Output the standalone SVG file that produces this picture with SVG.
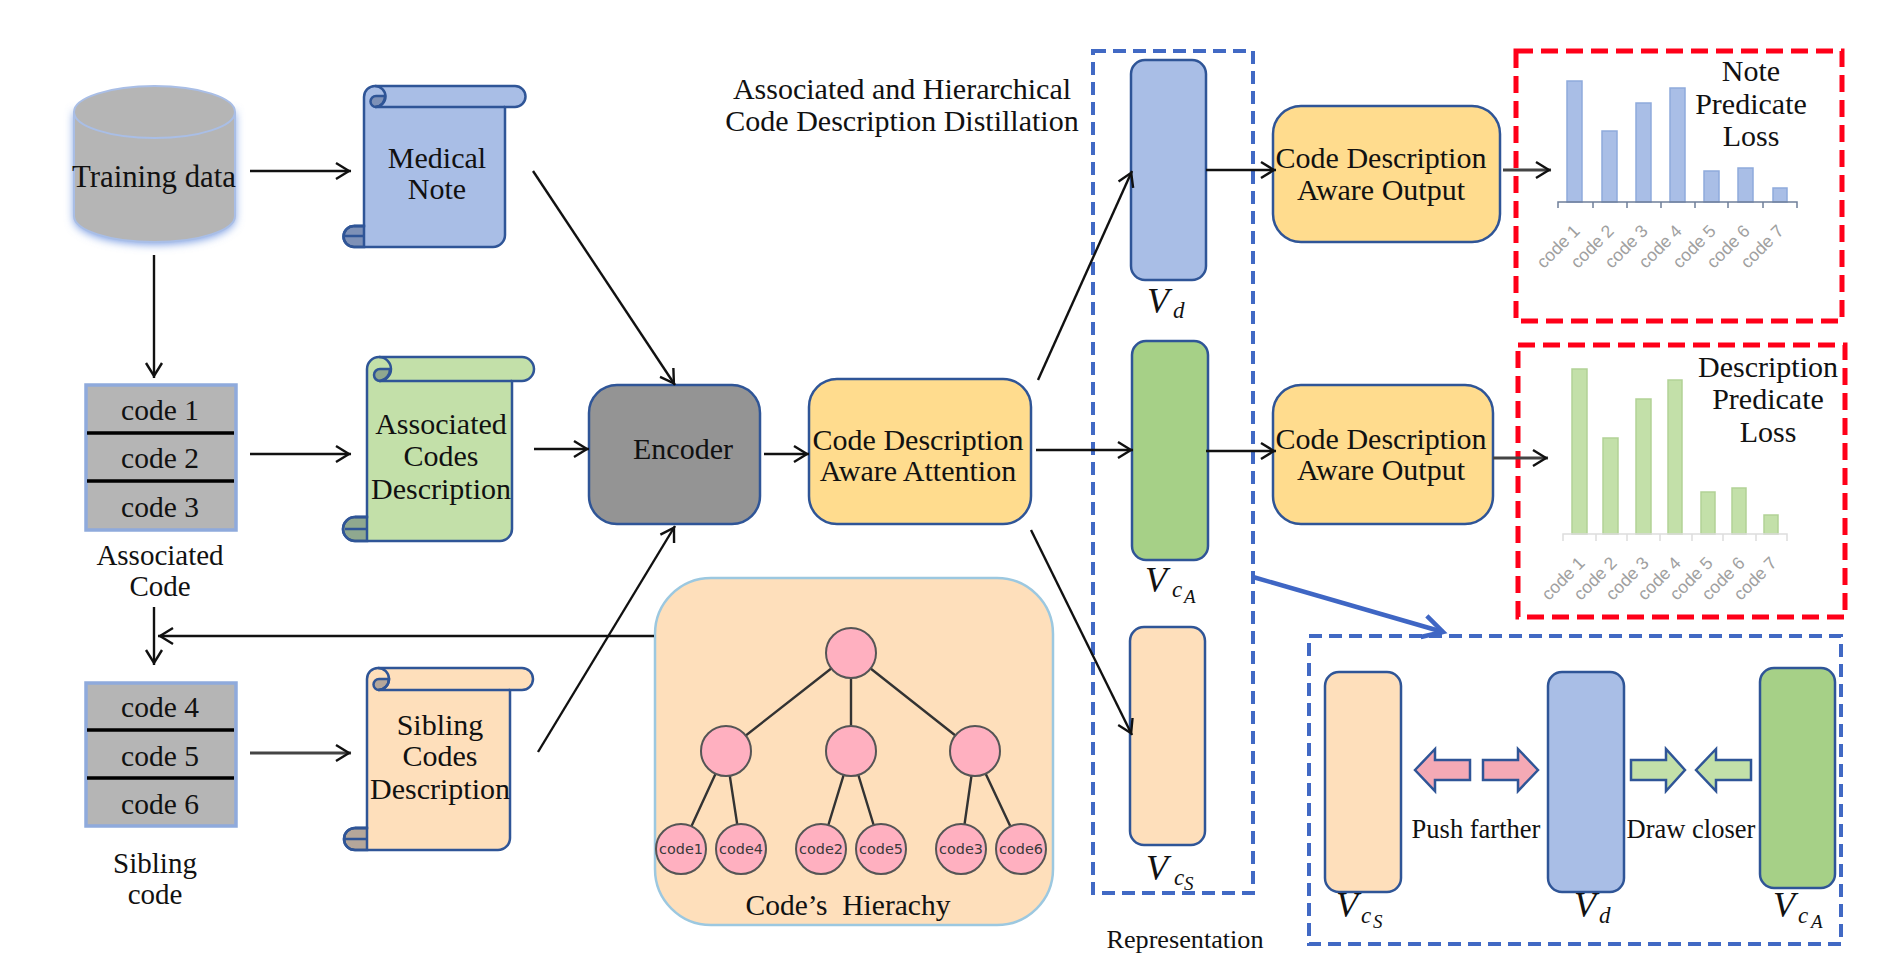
<svg xmlns="http://www.w3.org/2000/svg" width="1886" height="980" viewBox="0 0 1886 980">
<defs>
<marker id="ah" markerUnits="userSpaceOnUse" markerWidth="24" markerHeight="24" refX="17" refY="12" orient="auto"><path d="M2,4 L15,12 L2,20" fill="none" stroke="#111" stroke-width="2.4"/></marker>
<marker id="ahb" markerUnits="userSpaceOnUse" markerWidth="36" markerHeight="30" refX="28" refY="15" orient="auto"><path d="M8,4 L28,15 L8,26" fill="none" stroke="#3f66c4" stroke-width="4.5"/></marker>
<filter id="glow" x="-20%" y="-20%" width="140%" height="140%"><feGaussianBlur stdDeviation="5"/></filter>
</defs>
<style>
text{font-family:"Liberation Serif","Times New Roman",serif;fill:#111;font-size:30px;text-anchor:middle;white-space:pre}
.v{font-style:italic;font-size:36px;text-anchor:start}
.s{font-style:italic;font-size:23px;text-anchor:start}
.ss{font-style:italic;font-size:19px;text-anchor:start}
.lbl{font-size:29px}
.lf{font-family:"DejaVu Sans",sans-serif;font-size:14.4px;fill:#3a3a3a}
.ax1{font-family:"Liberation Sans",Arial,sans-serif;font-size:17.5px;fill:#a0a0a0;text-anchor:end}
.n{stroke:#2f5597;stroke-width:2.5}
.blue{fill:#a9bee6}.green{fill:#c3e0a9}.orange{fill:#fedfbb}.yellow{fill:#ffdc8e}.gray{fill:#949494}.vg{fill:#a6d087}
.curl{fill:#2f3f5f;fill-opacity:.35;stroke:#2f5597;stroke-width:2.5}
.cl{fill:none;stroke:#2f5597;stroke-width:2.5}
.code{fill:#b5b5b5;stroke:#8faadc;stroke-width:3.5}
.sep{stroke:#000;stroke-width:3.5}
.c{fill:none;stroke:#111;stroke-width:2.4;marker-end:url(#ah)}
.c2{fill:none;stroke:#444;stroke-width:3;marker-end:url(#ah)}
.red{fill:none;stroke:#ff0019;stroke-width:5;stroke-dasharray:17 8}
.bd{fill:none;stroke:#4169c4;stroke-width:4;stroke-dasharray:13 7}
.b1{fill:#a9bee6;stroke:#8faadc;stroke-width:1.5}
.b2{fill:#c3e0a9;stroke:#b2d296;stroke-width:1.5}
.tn{fill:#ffb0c0;stroke:#555;stroke-width:2}
.te{stroke:#333;stroke-width:2.4;fill:none}
.pa{fill:#f4a9b5;stroke:#2f5597;stroke-width:2.5}
.ga{fill:#c3e0a9;stroke:#2f5597;stroke-width:2.5}
</style>

<g id="training-data">
<path d="M74,112 V218 A80.5,26 0 0 0 235,218 V112 Z" fill="#6f94e0" filter="url(#glow)"/>
<path d="M74,112 A80.5,26 0 0 1 235,112 V216 A80.5,26 0 0 1 74,216 Z" fill="#b5b5b5" stroke="#a9bee6" stroke-width="2"/>
<path d="M74,112 A80.5,26 0 0 0 235,112" fill="none" stroke="#a9bee6" stroke-width="2"/>
<text x="154" y="187" style="font-size:30.8px">Training data</text>
</g>

<g id="medical-note">
<path class="n blue" d="M364,97 A11,11 0 0 1 375,86 H515 A10.5,10.5 0 0 1 515,107 H505 V235 A12,12 0 0 1 493,247 H354 A10.5,10.5 0 0 1 354,226 H364 Z"/>
<path class="cl" d="M375,86 A10.5,10.5 0 0 1 375,107 H505"/>
<path class="curl" d="M385,96 H376 A5.5,5.5 0 0 0 376,107 A10.5,10.5 0 0 0 385,96 Z"/>
<path class="curl" d="M354,226 A10.5,10.5 0 0 0 354,247 H364 V226 Z"/>
<path class="cl" d="M344,236 H364 M354,226 H364"/>
<text x="437" y="168">Medical</text><text x="437" y="199">Note</text>
</g>

<g id="associated-codes">
<path class="n green" d="M367,369 A12,12 0 0 1 379,357 H522 A12,12 0 0 1 522,381 H512 V529 A12,12 0 0 1 500,541 H355 A12,12 0 0 1 355,517 H367 Z"/>
<path class="cl" d="M379,357 A12,12 0 0 1 379,381 H512"/>
<path class="curl" d="M390,369 H380 A6,6 0 0 0 380,381 A12,12 0 0 0 390,369 Z"/>
<path class="curl" d="M355,517 A12,12 0 0 0 355,541 H367 V517 Z"/>
<path class="cl" d="M345,529 H367 M355,517 H367"/>
<text x="441" y="434">Associated</text><text x="441" y="466">Codes</text><text x="441" y="499">Description</text>
</g>

<g id="sibling-codes">
<path class="n orange" d="M367,679 A11,11 0 0 1 378,668 H522 A11,11 0 0 1 522,690 H510 V838 A12,12 0 0 1 498,850 H355 A11,11 0 0 1 355,828 H367 Z"/>
<path class="cl" d="M378,668 A11,11 0 0 1 378,690 H510"/>
<path class="curl" d="M389,679 H379 A5.5,5.5 0 0 0 379,690 A11,11 0 0 0 389,679 Z"/>
<path class="curl" d="M355,828 A11,11 0 0 0 355,850 H367 V828 Z"/>
<path class="cl" d="M345,839 H367 M355,828 H367"/>
<text x="440" y="735">Sibling</text><text x="440" y="766">Codes</text><text x="440" y="799">Description</text>
</g>

<g id="associated-code-list">
<rect class="code" x="86" y="385" width="150" height="145"/>
<line class="sep" x1="87" y1="433" x2="234" y2="433"/><line class="sep" x1="87" y1="481" x2="234" y2="481"/>
<text class="lbl" x="160" y="420" style="font-size:29.5px">code 1</text><text x="160" y="468" style="font-size:29.5px">code 2</text><text x="160" y="517" style="font-size:29.5px">code 3</text>
<text class="lbl" x="160" y="565">Associated</text><text class="lbl" x="160" y="596">Code</text>
</g>

<g id="sibling-code-list">
<rect class="code" x="86" y="683" width="150" height="143"/>
<line class="sep" x1="87" y1="730" x2="234" y2="730"/><line class="sep" x1="87" y1="778" x2="234" y2="778"/>
<text x="160" y="717" style="font-size:29.5px">code 4</text><text x="160" y="766" style="font-size:29.5px">code 5</text><text x="160" y="814" style="font-size:29.5px">code 6</text>
<text class="lbl" x="155" y="873">Sibling</text><text class="lbl" x="155" y="904">code</text>
</g>

<g id="encoder"><rect class="n gray" x="589" y="385" width="171" height="139" rx="28"/><text x="683" y="459">Encoder</text></g>
<g id="attention"><rect class="n yellow" x="809" y="379" width="222" height="145" rx="28"/><text x="918" y="450">Code Description</text><text x="918" y="481">Aware Attention</text></g>
<g id="output-note"><rect class="n yellow" x="1273" y="106" width="227" height="136" rx="28"/><text x="1381" y="168">Code Description</text><text x="1381" y="200">Aware Output</text></g>
<g id="output-desc"><rect class="n yellow" x="1273" y="385" width="220" height="139" rx="28"/><text x="1381" y="449">Code Description</text><text x="1381" y="480">Aware Output</text></g>

<g id="distillation-title"><text x="902" y="99">Associated and Hierarchical</text><text x="902" y="131">Code Description Distillation</text></g>

<g id="representation">
<rect class="bd" x="1093" y="51" width="160" height="842"/>
<rect class="n blue" x="1131" y="60" width="75" height="220" rx="14"/>
<rect class="n vg" x="1132" y="341" width="76" height="219" rx="14"/>
<rect class="n orange" x="1130" y="627" width="75" height="218" rx="14"/>
<text class="v" x="1147" y="313">V</text><text class="s" x="1173" y="318">d</text>
<text class="v" x="1145" y="592">V</text><text class="s" x="1172" y="597">c</text><text class="ss" x="1184" y="603">A</text>
<text class="v" x="1146" y="880">V</text><text class="s" x="1174" y="885">c</text><text class="ss" x="1184" y="890">S</text>
<text x="1185" y="948" style="font-size:26.2px">Representation</text>
</g>

<g id="hierarchy">
<rect x="655" y="578" width="398" height="347" rx="56" fill="#fedfbb" stroke="#9cc8e0" stroke-width="2.5"/>
<path class="te" d="M851,653 L726,751 M851,653 V751 M851,653 L975,751 M726,751 L681,849 M726,751 L741,849 M851,751 L821,849 M851,751 L881,849 M975,751 L961,849 M975,751 L1021,849"/>
<circle class="tn" cx="851" cy="653" r="25"/><circle class="tn" cx="726" cy="751" r="25"/><circle class="tn" cx="851" cy="751" r="25"/><circle class="tn" cx="975" cy="751" r="25"/>
<circle class="tn" cx="681" cy="849" r="25"/><circle class="tn" cx="741" cy="849" r="25"/><circle class="tn" cx="821" cy="849" r="25"/><circle class="tn" cx="881" cy="849" r="25"/><circle class="tn" cx="961" cy="849" r="25"/><circle class="tn" cx="1021" cy="849" r="25"/>
<text class="lf" x="681" y="854">code1</text><text class="lf" x="741" y="854">code4</text><text class="lf" x="821" y="854">code2</text><text class="lf" x="881" y="854">code5</text><text class="lf" x="961" y="854">code3</text><text class="lf" x="1021" y="854">code6</text>
<text x="848" y="915" style="font-size:29.5px">Code’s  Hierachy</text>
</g>

<g id="note-loss">
<rect class="red" x="1516" y="51" width="326" height="270"/>
<g class="b1"><rect x="1567" y="81" width="15" height="121"/><rect x="1602" y="131" width="15" height="71"/><rect x="1636" y="103" width="15" height="99"/><rect x="1670" y="88" width="15" height="114"/><rect x="1704" y="171" width="15" height="31"/><rect x="1738" y="168" width="15" height="34"/><rect x="1773" y="188" width="14" height="14"/></g>
<path d="M1558,208 V202 H1797 V208 M1593,202 V208 M1627,202 V208 M1661,202 V208 M1695,202 V208 M1728,202 V208 M1763,202 V208" fill="none" stroke="#6f7f99" stroke-width="1.5"/>
<text class="ax1" transform="translate(1581,232) rotate(-45)">code 1</text><text class="ax1" transform="translate(1615,232) rotate(-45)">code 2</text><text class="ax1" transform="translate(1649,232) rotate(-45)">code 3</text><text class="ax1" transform="translate(1683,232) rotate(-45)">code 4</text><text class="ax1" transform="translate(1717,232) rotate(-45)">code 5</text><text class="ax1" transform="translate(1751,232) rotate(-45)">code 6</text><text class="ax1" transform="translate(1785,232) rotate(-45)">code 7</text>
<text x="1751" y="81">Note</text><text x="1751" y="114">Predicate</text><text x="1751" y="146">Loss</text>
</g>

<g id="desc-loss">
<rect class="red" x="1518" y="345" width="327" height="272"/>
<g class="b2"><rect x="1572" y="369" width="15" height="165"/><rect x="1603" y="438" width="15" height="96"/><rect x="1636" y="399" width="15" height="135"/><rect x="1668" y="380" width="14" height="154"/><rect x="1701" y="492" width="14" height="42"/><rect x="1732" y="488" width="14" height="46"/><rect x="1764" y="515" width="14" height="19"/></g>
<path d="M1563,541 V534 H1787 V541 M1596,534 V541 M1627,534 V541 M1660,534 V541 M1692,534 V541 M1723,534 V541 M1756,534 V541" fill="none" stroke="#ddd" stroke-width="1.5"/>
<text class="ax1" transform="translate(1586,564) rotate(-45)">code 1</text><text class="ax1" transform="translate(1618,564) rotate(-45)">code 2</text><text class="ax1" transform="translate(1650,564) rotate(-45)">code 3</text><text class="ax1" transform="translate(1682,564) rotate(-45)">code 4</text><text class="ax1" transform="translate(1714,564) rotate(-45)">code 5</text><text class="ax1" transform="translate(1746,564) rotate(-45)">code 6</text><text class="ax1" transform="translate(1778,564) rotate(-45)">code 7</text>
<text x="1768" y="377">Description</text><text x="1768" y="409">Predicate</text><text x="1768" y="442">Loss</text>
</g>

<g id="contrast">
<rect class="bd" x="1309" y="636" width="532" height="308"/>
<rect class="n orange" x="1325" y="672" width="76" height="220" rx="14"/>
<rect class="n blue" x="1548" y="672" width="76" height="220" rx="14"/>
<rect class="n vg" x="1760" y="668" width="75" height="220" rx="14"/>
<path class="pa" d="M1415,770 L1435,749 V760 H1470 V780 H1435 V791 Z"/>
<path class="pa" d="M1538,770 L1518,749 V760 H1483 V780 H1518 V791 Z"/>
<path class="ga" d="M1685,770 L1666,749 V760 H1631 V780 H1666 V791 Z"/>
<path class="ga" d="M1696,770 L1716,749 V760 H1751 V780 H1716 V791 Z"/>
<text x="1476" y="838" style="font-size:26.5px">Push farther</text>
<text x="1691" y="838" style="font-size:26.5px">Draw closer</text>
<text class="v" x="1336" y="917">V</text><text class="s" x="1361" y="923">c</text><text class="ss" x="1373" y="928">S</text>
<text class="v" x="1574" y="917">V</text><text class="s" x="1599" y="923">d</text>
<text class="v" x="1773" y="917">V</text><text class="s" x="1798" y="923">c</text><text class="ss" x="1811" y="928">A</text>
</g>

<g id="connectors">
<line class="c" x1="250" y1="171" x2="351" y2="171"/>
<line class="c" x1="154" y1="255" x2="154" y2="378"/>
<line class="c" x1="250" y1="454" x2="351" y2="454"/>
<line class="c" x1="534" y1="449" x2="589" y2="449"/>
<line class="c" x1="533" y1="171" x2="675" y2="385"/>
<line class="c" x1="538" y1="752" x2="675" y2="526"/>
<line class="c" x1="764" y1="454" x2="809" y2="454"/>
<line class="c" x1="1038" y1="380" x2="1132" y2="171"/>
<line class="c" x1="1036" y1="450" x2="1133" y2="450"/>
<line class="c" x1="1031" y1="530" x2="1132" y2="735"/>
<line class="c" x1="1206" y1="170" x2="1276" y2="170"/>
<line class="c" x1="1206" y1="451" x2="1276" y2="451"/>
<line class="c2" x1="1503" y1="170" x2="1551" y2="170"/>
<line class="c2" x1="1493" y1="458" x2="1548" y2="458"/>
<line class="c" x1="654" y1="636" x2="158" y2="636"/>
<line class="c" x1="154" y1="607" x2="154" y2="665"/>
<line class="c2" x1="250" y1="753" x2="351" y2="753"/>
<line x1="1253" y1="577" x2="1443" y2="632" fill="none" stroke="#3f66c4" stroke-width="4.5" marker-end="url(#ahb)"/>
</g>
</svg>
